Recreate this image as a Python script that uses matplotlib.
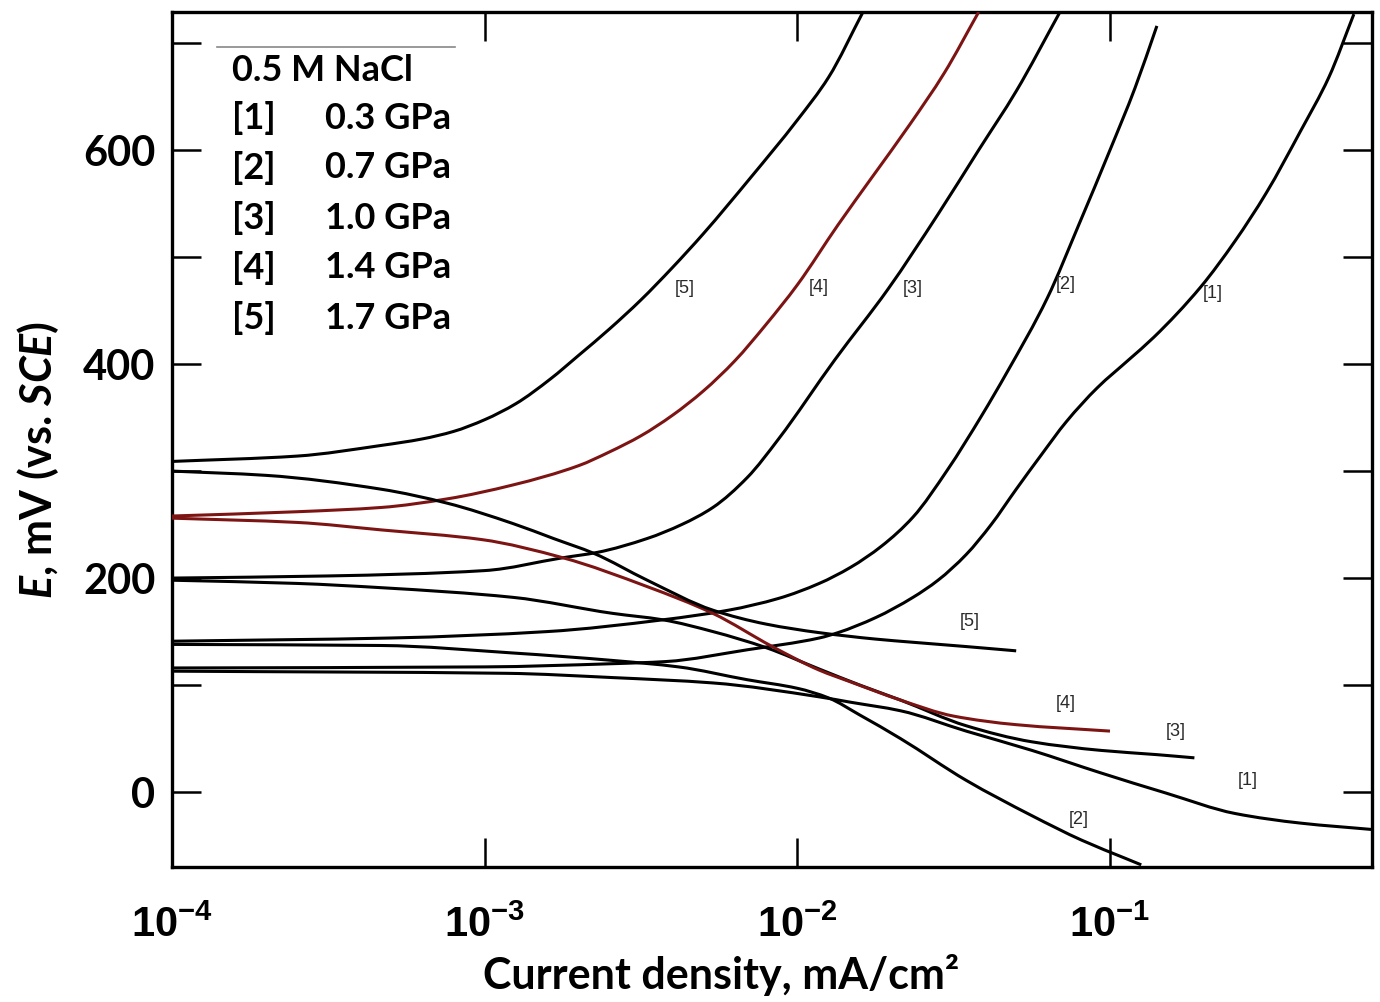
import numpy as np
import matplotlib
matplotlib.use("Agg")
import matplotlib.pyplot as plt
from matplotlib.path import Path
from matplotlib.patches import PathPatch

# ---------------- data (log10 of current density in mA/cm2, potential in mV vs SCE) -------------
labels = ["[1]", "[2]", "[3]", "[4]", "[5]"]
pressures = ["0.3 GPa", "0.7 GPa", "1.0 GPa", "1.4 GPa", "1.7 GPa"]

a1_logi = [-4.0, -3.0, -2.59, -2.42, -2.16, -1.93, -1.87, -1.75, -1.63, -1.55, -1.46, -1.38, -1.30, -1.22, -1.14, -1.04, -0.94, -0.86, -0.71, -0.60, -0.50, -0.39, -0.30, -0.22]
a1_E = [116, 117, 120, 122, 133, 144, 149, 163, 182, 198, 222, 250, 283, 315, 346, 378, 404, 425, 472, 515, 560, 618, 668, 727]
c1_logi = [-4.0, -2.93, -2.59, -2.27, -1.93, -1.83, -1.67, -1.46, -1.25, -1.03, -0.82, -0.6, -0.39, -0.16]
c1_E = [113, 111, 107, 102, 89, 84, 76, 57, 39, 18, -1, -20, -29, -35]

a2_logi = [-4.0, -3.3, -2.8, -2.43, -2.22, -2.06, -1.93, -1.83, -1.73, -1.63, -1.52, -1.41, -1.33, -1.2, -1.1, -1.0, -0.92, -0.85]
a2_E = [141, 144, 150, 161, 170, 181, 195, 210, 230, 257, 301, 352, 392, 462, 530, 600, 658, 716]
c2_logi = [-4.0, -3.33, -2.91, -2.59, -2.38, -2.16, -2.0, -1.9, -1.8, -1.67, -1.46, -1.25, -1.09, -0.95, -0.9]
c2_E = [138, 137, 130, 123, 117, 105, 97, 88, 72, 50, 11, -22, -45, -62, -68]

a3_logi = [-4.0, -3.5, -3.0, -2.75, -2.64, -2.48, -2.37, -2.27, -2.16, -2.06, -1.88, -1.71, -1.55, -1.42, -1.3, -1.16]
a3_E = [200, 202, 207, 219, 224, 237, 250, 266, 294, 330, 404, 470, 540, 600, 655, 729]
c3_logi = [-4.0, -3.6, -3.33, -2.91, -2.59, -2.43, -2.27, -2.1, -1.93, -1.8, -1.67, -1.46, -1.25, -1.03, -0.85, -0.73]
c3_E = [198, 195, 191, 182, 167, 161, 150, 135, 115, 100, 86, 62, 47, 39, 35, 32]

a4_logi = [-4.0, -3.6, -3.33, -3.12, -2.91, -2.7, -2.6, -2.5, -2.4, -2.3, -2.2, -2.1, -2.0, -1.87, -1.76, -1.64, -1.53, -1.42]
a4_E = [258, 262, 266, 274, 287, 305, 318, 333, 352, 375, 403, 437, 474, 530, 575, 624, 672, 729]
c4_logi = [-4.0, -3.6, -3.33, -3.01, -2.75, -2.48, -2.27, -2.08, -1.93, -1.83, -1.67, -1.5, -1.3, -1.0]
c4_E = [256, 252, 245, 236, 219, 192, 167, 136, 114, 103, 86, 71, 63, 57]

a5_logi = [-4.0, -3.6, -3.33, -3.2, -3.1, -3.0, -2.9, -2.79, -2.7, -2.6, -2.5, -2.4, -2.3, -2.15, -2.0, -1.9, -1.79]
a5_E = [309, 314, 324, 330, 337, 348, 363, 386, 408, 433, 460, 490, 522, 574, 628, 668, 729]
c5_logi = [-4.0, -3.7, -3.33, -3.12, -2.91, -2.78, -2.65, -2.48, -2.27, -2.1, -1.93, -1.75, -1.63, -1.46, -1.3]
c5_E = [300, 296, 283, 270, 251, 237, 223, 198, 170, 157, 149, 143, 140, 136, 132]

# curve-label positions (log10 i, E)
anodic_lab_logi = [-0.67, -1.14, -1.63, -1.93, -2.36]
anodic_lab_E = [466, 474, 471, 472, 471]
cath_lab_logi = [-0.56, -1.10, -0.79, -1.14, -1.45]
cath_lab_E = [11, -26, 57, 83, 159]

x_ticks = [1e-4, 1e-3, 1e-2, 1e-1]
x_ticklabels = [r"$\mathbf{10^{-4}}$", r"$\mathbf{10^{-3}}$", r"$\mathbf{10^{-2}}$", r"$\mathbf{10^{-1}}$"]
y_major = [0, 100, 200, 300, 400, 500, 600, 700]
y_labelled = [0, 200, 400, 600]

# ---------------- style ----------------
plt.rcParams['font.family'] = ['Lato', 'DejaVu Sans']
plt.rcParams['mathtext.fontset'] = 'custom'
plt.rcParams['mathtext.bf'] = 'Liberation Sans:bold'
plt.rcParams['mathtext.rm'] = 'Liberation Sans'
plt.rcParams['mathtext.bfit'] = 'Lato:bold:italic'
plt.rcParams['mathtext.it'] = 'Lato:italic'

fig = plt.figure(figsize=(13.8, 10.02), dpi=100)
ax = fig.add_axes([172/1380, 1-867/1002, 1200/1380, 855/1002])

black = '#000000'
red = '#7d1414'
colors = [black, black, black, red, black]
an = [(a1_logi, a1_E), (a2_logi, a2_E), (a3_logi, a3_E), (a4_logi, a4_E), (a5_logi, a5_E)]
ca = [(c1_logi, c1_E), (c2_logi, c2_E), (c3_logi, c3_E), (c4_logi, c4_E), (c5_logi, c5_E)]


def smooth_curve(logi, e):
    """Monotone cubic (PCHIP-style) curve through the read points, drawn as Bezier segments in log space."""
    x = np.asarray(logi, float)
    y = np.asarray(e, float)
    h = np.diff(x)
    s = np.diff(y) / h
    n = len(x)
    d = np.zeros(n)
    for i in range(1, n - 1):
        if s[i - 1] * s[i] <= 0:
            d[i] = 0.0
        else:
            w1 = 2 * h[i] + h[i - 1]
            w2 = h[i] + 2 * h[i - 1]
            d[i] = (w1 + w2) / (w1 / s[i - 1] + w2 / s[i])
    d[0] = s[0]
    d[-1] = s[-1]
    verts = [[x[0], y[0]]]
    codes = [Path.MOVETO]
    for i in range(n - 1):
        verts += [[x[i] + h[i] / 3, y[i] + d[i] * h[i] / 3],
                  [x[i + 1] - h[i] / 3, y[i + 1] - d[i + 1] * h[i] / 3],
                  [x[i + 1], y[i + 1]]]
        codes += [Path.CURVE4] * 3
    V = np.array(verts)
    V[:, 0] = 10 ** V[:, 0]
    return Path(V, codes)


ax.set_xscale('log')
ax.set_xlim(1e-4, 10**(-0.162))
ax.set_ylim(-70, 729)

for k in range(5):
    for (li, e) in (an[k], ca[k]):
        ax.add_patch(PathPatch(smooth_curve(li, e), fill=False, edgecolor=colors[k],
                               lw=2.2, capstyle='butt', zorder=3))

for k in range(5):
    ax.text(10**anodic_lab_logi[k], anodic_lab_E[k], labels[k], fontsize=13,
            family='Liberation Sans', color='#2a2a2a', ha='center', va='center')
    ax.text(10**cath_lab_logi[k], cath_lab_E[k], labels[k], fontsize=13,
            family='Liberation Sans', color='#2a2a2a', ha='center', va='center')

ax.set_xticks(x_ticks)
ax.set_xticklabels(x_ticklabels, fontsize=30)
ax.xaxis.set_minor_locator(matplotlib.ticker.NullLocator())
ax.set_yticks(y_major)
ax.set_yticklabels([str(v) if v in y_labelled else '' for v in y_major],
                   fontsize=30, fontweight='bold')

ax.tick_params(axis='both', which='major', direction='in', length=21, width=1.8,
               top=True, right=True)
ax.tick_params(axis='x', pad=26)
ax.tick_params(axis='y', pad=12)
for s in ax.spines.values():
    s.set_linewidth(2.4)

ax.set_xlabel('Current density, mA/cm²', fontsize=31, fontweight='bold')
ax.xaxis.set_label_coords((721 - 172) / 1200, (867 - 975) / 855)
ax.xaxis.label.set_verticalalignment('center')
ax.set_ylabel(r'$\mathbfit{E}$, mV (vs. $\mathbfit{SCE}$)', fontsize=31, fontweight='bold')
ax.yaxis.set_label_coords((38 - 172) / 1200, (867 - 460) / 855)
ax.yaxis.label.set_verticalalignment('center')

# legend-like annotation
ax.plot([0.0375, 0.2358], [0.959, 0.959], transform=ax.transAxes, color='#888888', lw=1.2, clip_on=False)
ax.text(0.05, 0.932, '0.5 M NaCl', transform=ax.transAxes, fontsize=26, fontweight='bold', va='center', ha='left')
rows_y = [0.876, 0.818, 0.759, 0.701, 0.642]
for k in range(5):
    ax.text(0.05, rows_y[k], labels[k], transform=ax.transAxes, fontsize=26, fontweight='bold', va='center', ha='left')
    ax.text(0.1275, rows_y[k], pressures[k], transform=ax.transAxes, fontsize=26, fontweight='bold', va='center', ha='left')

fig.savefig('out.png', dpi=100)
